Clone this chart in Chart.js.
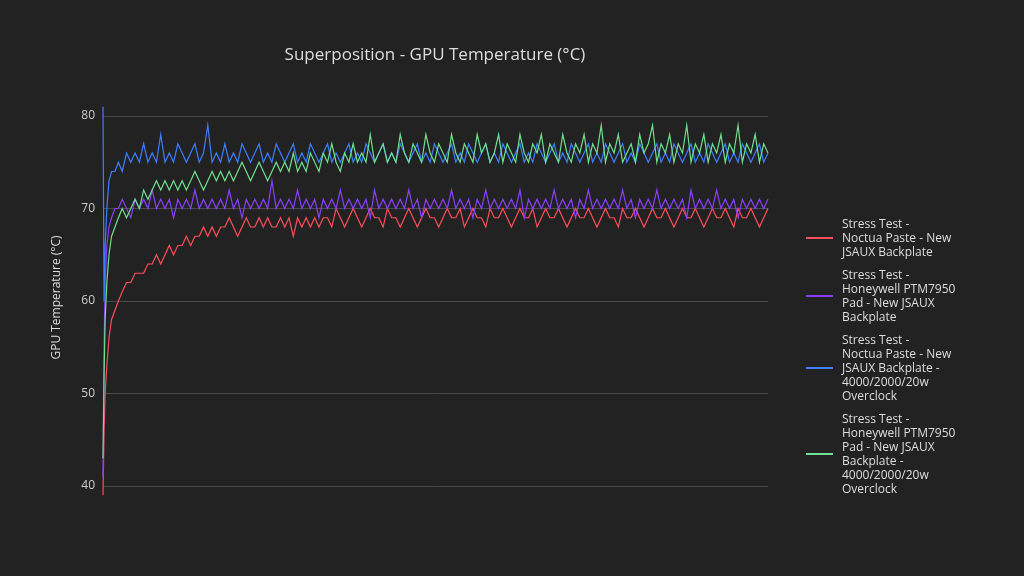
<!DOCTYPE html>
<html><head><meta charset="utf-8">
<script src="https://cdn.jsdelivr.net/npm/chart.js@4"></script>
<style>
body{margin:0;background:#222;font-family:"Open Sans","DejaVu Sans",sans-serif;}
#wrap{position:relative;width:1024px;height:576px;}
#title{position:absolute;left:0;width:870px;top:42px;text-align:center;color:#ddd;font-size:17px;}
#legend{position:absolute;left:806px;top:217px;color:#ddd;font-size:12px;line-height:14px;}
.it{position:relative;padding-left:36px;margin-bottom:9px;}
.it span{position:absolute;left:0;top:0;width:27px;height:2px;}
</style></head><body>
<div id="wrap"><canvas id="c" width="1024" height="576"></canvas>
<div id="title">Superposition - GPU Temperature (°C)</div>
<div id="legend"></div></div>
<script>
const seriesNames=["Stress Test - Noctua Paste - New JSAUX Backplate","Stress Test - Honeywell PTM7950 Pad - New JSAUX Backplate","Stress Test - Noctua Paste - New JSAUX Backplate - 4000/2000/20w Overclock","Stress Test - Honeywell PTM7950 Pad - New JSAUX Backplate - 4000/2000/20w Overclock"];
const legendLines=[["Stress Test -","Noctua Paste - New","JSAUX Backplate"],["Stress Test -","Honeywell PTM7950","Pad - New JSAUX","Backplate"],["Stress Test -","Noctua Paste - New","JSAUX Backplate -","4000/2000/20w","Overclock"],["Stress Test -","Honeywell PTM7950","Pad - New JSAUX","Backplate -","4000/2000/20w","Overclock"]];
const colors=["#ff4d5a","#8a3ffc","#3d7eff","#6ee08e"];
const yTicks=[40,50,60,70,80];
// sample times of the first (warm-up) readings; later readings are one unit apart
const warmupTimes=[0,0.25,0.5,0.9,1.4,2,2.8,3.6,4.5,5.5];
const red=[39,46,50,53,56,58,59,60,61,62,62,63,63,63,64,64,65,64,65,66,65,66,66,67,66,67,67,68,67,68,67,68,68,69,68,67,68,69,68,68,69,68,69,68,68,69,68,69,67,69,68,69,68,69,68,69,69,68,70,69,68,69,70,69,68,69,70,69,69,68,70,69,69,68,69,70,69,68,69,70,69,69,68,69,70,69,69,70,68,69,70,69,69,68,70,69,69,70,69,68,69,70,69,69,70,68,69,70,69,69,70,69,68,69,70,69,69,70,69,68,69,70,69,69,68,70,69,69,70,69,68,69,70,69,69,70,69,68,69,70,69,69,70,69,68,69,70,69,69,70,69,68,70,69,69,70,69,68,69,70];
const purple=[41,55,62,66,68,69,70,70,71,70,69,71,70,71,70,72,70,71,70,71,69,71,70,71,70,72,70,71,70,71,70,71,70,72,70,71,69,71,70,71,70,71,70,73,70,71,70,71,70,72,70,71,70,71,69,71,70,71,70,72,70,71,70,71,70,71,69,72,70,71,70,71,70,71,70,72,70,71,69,71,70,71,70,71,70,72,70,71,70,71,69,71,70,72,70,71,70,71,70,71,70,72,69,71,70,71,70,71,70,72,70,71,70,71,69,71,70,72,70,71,70,71,70,71,70,72,70,71,69,71,70,71,70,72,70,71,70,71,70,71,69,72,70,71,70,71,70,72,70,71,70,71,69,71,70,71,70,71,70,71];
const blue=[81,60,66,70,73,74,74,75,74,76,75,76,75,77,75,76,75,78,75,76,75,77,76,75,76,77,75,76,79,75,76,75,77,75,76,75,77,76,75,76,77,75,76,75,77,76,75,76,77,75,76,75,77,76,75,76,77,75,76,75,76,77,75,76,75,77,76,75,76,77,75,76,75,77,76,75,76,77,75,76,75,77,76,75,76,77,75,76,75,77,76,75,76,77,75,76,75,77,76,75,76,77,75,76,75,77,76,75,76,77,75,76,75,77,76,75,76,77,75,76,75,77,76,75,76,77,75,76,75,77,76,75,76,77,75,76,75,77,76,75,76,77,75,76,75,77,76,75,76,77,75,76,75,77,76,75,76,77,75,76];
const green=[43,52,58,62,65,67,68,69,70,69,70,71,70,72,71,72,73,72,73,72,73,72,73,72,73,74,73,72,73,74,73,74,73,74,73,74,75,74,73,74,75,74,73,74,75,74,75,74,76,74,75,74,76,75,74,76,75,77,75,74,76,75,77,75,76,75,78,75,76,77,75,76,75,78,76,75,77,76,75,78,76,75,77,76,75,78,76,75,77,76,75,78,76,77,75,76,78,75,77,76,75,78,76,75,77,76,78,75,77,76,75,78,76,75,77,76,78,75,77,76,79,75,77,76,78,75,76,77,75,78,76,77,79,75,77,76,78,75,77,76,79,75,77,76,78,75,77,76,78,75,77,76,79,75,77,76,78,75,77,76];
const allSeries=[red,purple,blue,green];
const timeAt=j=>j<warmupTimes.length?warmupTimes[j]:j-(warmupTimes.length-1)+warmupTimes[warmupTimes.length-1];
const lg=document.getElementById('legend');
legendLines.forEach((ls,i)=>{const d=document.createElement('div');d.className='it';d.innerHTML=ls.join('<br>')+'<span></span>';const s=d.querySelector('span');s.style.background=colors[i];s.style.top=(ls.length*14/2-1)+'px';lg.appendChild(d);});
new Chart(document.getElementById('c'),{type:'line',
data:{datasets:allSeries.map((s,i)=>({label:seriesNames[i],data:s.map((v,j)=>({x:timeAt(j),y:v})),borderColor:colors[i],borderWidth:1.2,pointRadius:0,tension:0,clip:false,order:3-i}))},
options:{responsive:false,animation:false,
layout:{padding:{top:105,bottom:86,right:256,left:45}},
plugins:{legend:{display:false},tooltip:{enabled:false}},
scales:{x:{type:'linear',min:0,max:timeAt(red.length-1),display:false},
y:{min:39.57,max:81.19,afterBuildTicks:a=>{a.ticks=yTicks.map(v=>({value:v}));},afterFit:s=>{s.width=58;},
border:{display:false},grid:{color:'#4a4a4a',drawTicks:false},
ticks:{color:'#ccc',font:{size:12,family:'Open Sans'},padding:8},
title:{display:true,text:'GPU Temperature (°C)',color:'#ddd',font:{size:12,family:'Open Sans'},padding:{bottom:4}}}}}});
</script></body></html>
